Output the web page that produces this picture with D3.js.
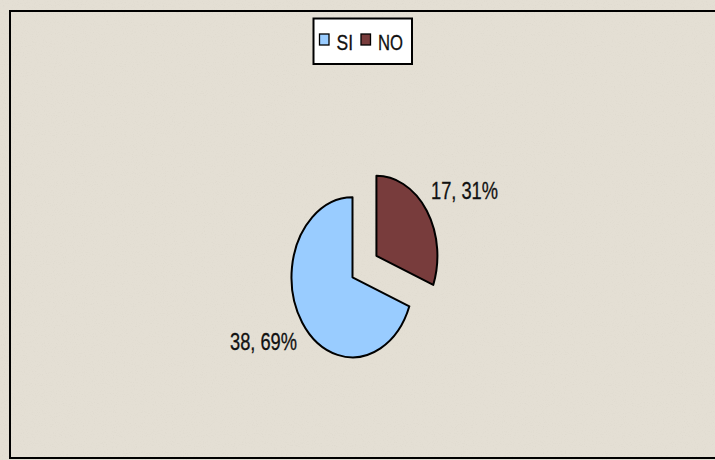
<!DOCTYPE html>
<html>
<head>
<meta charset="utf-8">
<script src="https://cdn.jsdelivr.net/npm/d3@7"></script>
<style>
  html, body { margin: 0; padding: 0; background: #e4dfd4; }
  svg { display: block; }
  text { font-family: "Liberation Sans Narrow", "Arial Narrow", "Liberation Sans", Arial, sans-serif; fill: #111; }
</style>
</head>
<body>
<svg id="chart" width="715" height="460"></svg>
<script>
const categories = ["SI", "NO"];
const values = [38, 17];
const percentLabels = ["69%", "31%"];
const colors = ["#99ccff", "#783c3c"];
const exploded = [false, true];

const W = 715, H = 460;
const svg = d3.select("#chart");

// background with subtle speckle
const defs = svg.append("defs");
const f = defs.append("filter").attr("id", "noise").attr("x", 0).attr("y", 0).attr("width", "100%").attr("height", "100%");
f.append("feTurbulence").attr("type", "fractalNoise").attr("baseFrequency", 0.9).attr("numOctaves", 2).attr("seed", 3).attr("result", "t");
f.append("feColorMatrix").attr("in", "t").attr("type", "matrix")
  .attr("values", "0 0 0 0 0.55  0 0 0 0 0.52  0 0 0 0 0.45  0 0 0 -1.6 0.75");
svg.append("rect").attr("width", W).attr("height", H).attr("fill", "#e4dfd4");
svg.append("rect").attr("width", W).attr("height", H).attr("filter", "url(#noise)").attr("opacity", 0.25);

// chart border (right edge runs off-canvas)
svg.append("rect").attr("x", 10).attr("y", 11).attr("width", W + 10).attr("height", 447)
  .attr("fill", "none").attr("stroke", "#000").attr("stroke-width", 2);

// pie
const total = d3.sum(values);
const start = 2 * Math.PI * values[1] / total;
const pie = d3.pie().sort(null).startAngle(start).endAngle(start + 2 * Math.PI);
const arcs = pie(values);
const R = 80, sx = 0.7625, explodeDist = 38;
const cx = 352.5, cy = 277.3;
const arc = d3.arc().innerRadius(0).outerRadius(R);

const g = svg.append("g").attr("transform", `translate(${cx},${cy}) scale(${sx},1)`);
g.selectAll("path").data(arcs).join("path")
  .attr("d", arc)
  .attr("transform", (d, i) => {
    if (!exploded[i]) return null;
    const m = (d.startAngle + d.endAngle) / 2;
    return `translate(${Math.sin(m) * explodeDist},${-Math.cos(m) * explodeDist})`;
  })
  .attr("fill", (d, i) => colors[i])
  .attr("stroke", "#000")
  .attr("stroke-width", 2)
  .attr("stroke-linejoin", "round")
  .attr("vector-effect", "non-scaling-stroke");

// data labels
const labelPos = [[230, 350], [431, 199]];
svg.selectAll("text.lbl").data(categories).join("text")
  .attr("class", "lbl")
  .attr("x", (d, i) => labelPos[i][0])
  .attr("y", (d, i) => labelPos[i][1])
  .attr("font-size", 23)
  .attr("textLength", 67)
  .attr("lengthAdjust", "spacingAndGlyphs")
  .attr("stroke", "#111").attr("stroke-width", 0.3)
  .text((d, i) => `${values[i]}, ${percentLabels[i]}`);

// legend
const lg = svg.append("g");
lg.append("rect").attr("x", 313.5).attr("y", 18.5).attr("width", 98.5).attr("height", 45.5)
  .attr("fill", "#fff").attr("stroke", "#000").attr("stroke-width", 2);
const legendX = [319.5, 361];
const legendTextX = [336.5, 378];
const legendTextW = [16.5, 25];
categories.forEach((c, i) => {
  lg.append("rect").attr("x", legendX[i]).attr("y", 34).attr("width", 9.5).attr("height", 11)
    .attr("fill", colors[i]).attr("stroke", "#000").attr("stroke-width", 1.3);
  lg.append("text").attr("x", legendTextX[i]).attr("y", 49.5).attr("font-size", 22)
    .attr("textLength", legendTextW[i]).attr("lengthAdjust", "spacingAndGlyphs")
    .attr("stroke", "#111").attr("stroke-width", 0.3).text(c);
});
</script>
</body>
</html>
